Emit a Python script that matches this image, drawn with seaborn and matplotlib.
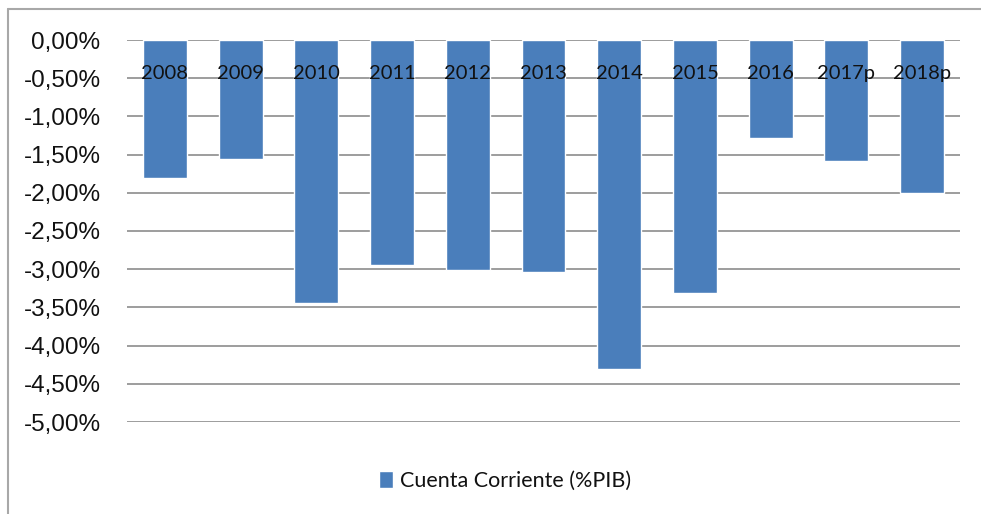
import matplotlib
matplotlib.use("Agg")
import matplotlib.pyplot as plt
import matplotlib.ticker as mticker
from matplotlib.lines import Line2D
import seaborn as sns
import pandas as pd

years = ["2008", "2009", "2010", "2011", "2012", "2013", "2014", "2015", "2016", "2017p", "2018p"]
cuenta_corriente = [-1.80, -1.56, -3.44, -2.95, -3.01, -3.04, -4.31, -3.31, -1.28, -1.59, -2.00]
y_ticks = [0.0, -0.5, -1.0, -1.5, -2.0, -2.5, -3.0, -3.5, -4.0, -4.5, -5.0]
series_name = "Cuenta Corriente (%PIB)"

df = pd.DataFrame({"year": years, "value": cuenta_corriente})

sns.set_theme(style="white")
bar_color = "#4a7ebb"
grid_color = "#8c8c8c"

fig = plt.figure(figsize=(9.81, 5.14), dpi=100)
ax = fig.add_axes([127 / 981, 1 - 422 / 514, (960 - 127) / 981, (422 - 40) / 514])

sns.barplot(data=df, x="year", y="value", color=bar_color, width=0.58,
            saturation=1, ax=ax, label=series_name, zorder=3)

ax.set_ylim(-5, 0)
ax.set_xlim(-0.5, len(years) - 0.5)
ax.set_yticks(y_ticks)
ax.yaxis.set_major_formatter(mticker.FuncFormatter(
    lambda v, p: ("%.2f%%" % (0.0 if abs(v) < 1e-9 else v)).replace(".", ",")))
ax.tick_params(axis="y", length=0, pad=19, labelsize=17.5, labelcolor="#111111")
for lab in ax.get_yticklabels():
    lab.set_fontfamily("Liberation Sans")

ax.grid(axis="y", color=grid_color, linewidth=1.2)
ax.grid(axis="x", visible=False)
ax.set_axisbelow(True)
ax.xaxis.set_zorder(5)
for s in ax.spines.values():
    s.set_visible(False)

ax.xaxis.set_ticks_position("top")
ax.tick_params(axis="x", length=0, pad=-30, labelsize=14.5, labelcolor="#111111",
               labeltop=True, labelbottom=False)
for lab in ax.get_xticklabels():
    lab.set_fontfamily("Lato")
ax.set_xlabel("")
ax.set_ylabel("")

leg = ax.legend(loc="center", bbox_to_anchor=(505 / 981, 1 - 481 / 514),
                bbox_transform=fig.transFigure, frameon=False,
                prop={"family": "Lato", "size": 15.5},
                handlelength=0.65, handleheight=0.8, handletextpad=0.3)
for t in leg.get_texts():
    t.set_color("#111111")

border_color = "#a8a8a8"
fig.add_artist(Line2D([8 / 981, 8 / 981], [0, 1 - 9 / 514], transform=fig.transFigure,
                      color=border_color, linewidth=1.5))
fig.add_artist(Line2D([8 / 981, 1], [1 - 9 / 514, 1 - 9 / 514], transform=fig.transFigure,
                      color=border_color, linewidth=1.5))

fig.savefig("out.png", dpi=100)
